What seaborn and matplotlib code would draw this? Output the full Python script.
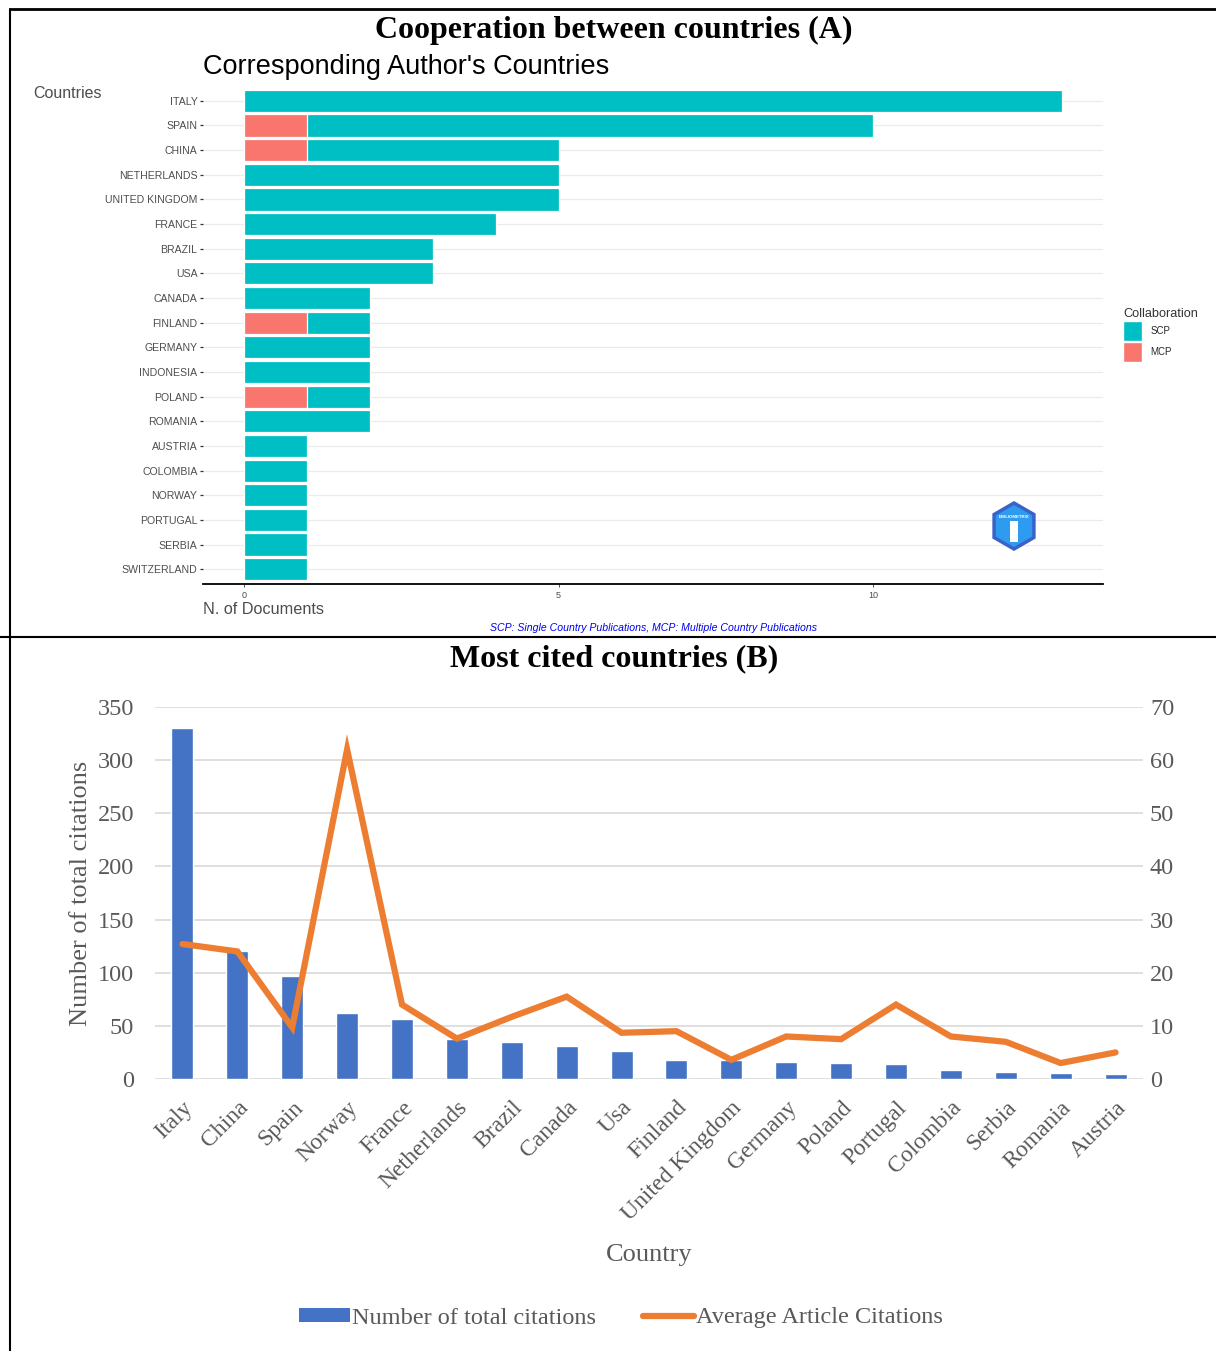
import numpy as np
import pandas as pd
import matplotlib
matplotlib.use("Agg")
import matplotlib.pyplot as plt
import seaborn as sns
from matplotlib.lines import Line2D
from matplotlib.patches import Patch, RegularPolygon

# ---- Panel A: corresponding author's countries ----
countries_a = ["ITALY", "SPAIN", "CHINA", "NETHERLANDS", "UNITED KINGDOM", "FRANCE",
               "BRAZIL", "USA", "CANADA", "FINLAND", "GERMANY", "INDONESIA", "POLAND",
               "ROMANIA", "AUSTRIA", "COLOMBIA", "NORWAY", "PORTUGAL", "SERBIA",
               "SWITZERLAND"]
scp = [13, 9, 4, 5, 5, 4, 3, 3, 2, 1, 2, 2, 1, 2, 1, 1, 1, 1, 1, 1]
mcp = [0, 1, 1, 0, 0, 0, 0, 0, 0, 1, 0, 0, 1, 0, 0, 0, 0, 0, 0, 0]
ticks_a = [0, 5, 10]

# ---- Panel B: most cited countries ----
countries_b = ["Italy", "China", "Spain", "Norway", "France", "Netherlands", "Brazil",
               "Canada", "Usa", "Finland", "United Kingdom", "Germany", "Poland",
               "Portugal", "Colombia", "Serbia", "Romania", "Austria"]
total_citations = [330, 120, 97, 62, 56, 38, 35, 31, 26, 18, 18, 16, 15, 14, 8, 7, 6, 5]
avg_citations = [25.4, 24.0, 9.7, 62.0, 14.0, 7.6, 11.7, 15.5, 8.7, 9.0, 3.6, 8.0, 7.5,
                 14.0, 8.0, 7.0, 3.0, 5.0]
ticks_left = [0, 50, 100, 150, 200, 250, 300, 350]
ticks_right = [0, 10, 20, 30, 40, 50, 60, 70]

TEAL = "#00BFC4"
SALMON = "#F8766D"
BLUE = "#4472C4"
ORANGE = "#ED7D31"
GREY_TXT = "#595959"
SERIF = ["Liberation Serif", "DejaVu Serif"]

sns.set_theme(style="white")
plt.rcParams["font.family"] = ["Liberation Sans", "DejaVu Sans"]

W, H = 1216, 1351
fig = plt.figure(figsize=(W / 100, H / 100), dpi=100)


def fx(px):
    return px / W


def fy(py):
    return 1 - py / H


# ================= Panel A =================
df_a = pd.DataFrame({"Country": countries_a, "SCP": scp, "MCP": mcp})
df_a["Total"] = df_a["SCP"] + df_a["MCP"]

axA = fig.add_axes([fx(203), fy(584), fx(1103) - fx(203), fy(86) - fy(584)])
axA.set_axisbelow(True)
sns.barplot(data=df_a, x="Total", y="Country", order=countries_a, color=TEAL,
            saturation=1, width=0.9, edgecolor="white", linewidth=0.9, ax=axA)
sns.barplot(data=df_a[df_a["MCP"] > 0], x="MCP", y="Country", order=countries_a,
            color=SALMON, saturation=1, width=0.9, edgecolor="white", linewidth=0.9,
            ax=axA)
axA.set_xlim(-0.65, 13.65)
axA.set_ylim(len(countries_a) - 0.4, -0.6)
axA.set_xticks(ticks_a)
axA.set_xticklabels([str(t) for t in ticks_a])
axA.yaxis.grid(True, color="#ebebeb", linewidth=0.9)
axA.xaxis.grid(False)
for s in ["left", "right", "top"]:
    axA.spines[s].set_visible(False)
axA.spines["bottom"].set_color("black")
axA.spines["bottom"].set_linewidth(1.3)
axA.tick_params(axis="y", labelsize=7.6, labelcolor="#4d4d4d", length=2.5, width=0.9,
                color="#333333", pad=1.5, left=True)
axA.tick_params(axis="x", labelsize=6.5, labelcolor="#4d4d4d", length=2, width=0.6,
                color="#333333", pad=3, bottom=True)
axA.set_xlabel("")
axA.set_ylabel("")

fig.text(fx(33), fy(93), "Countries", fontsize=11.5, color="#4d4d4d", ha="left", va="center")
fig.text(fx(203), fy(609), "N. of Documents", fontsize=11.7, color="#4d4d4d",
         ha="left", va="center")
fig.text(fx(653), fy(628), "SCP: Single Country Publications, MCP: Multiple Country Publications",
         fontsize=7.6, color="#0000EE", style="italic", ha="center", va="center")
fig.text(fx(614), fy(30), "Cooperation between countries (A)", family=SERIF,
         fontweight="bold", fontsize=23, ha="center", va="center", color="black")
fig.text(fx(203), fy(67), "Corresponding Author's Countries", fontsize=19.5,
         ha="left", va="center", color="black")

legA = axA.legend(handles=[Patch(facecolor=TEAL, edgecolor="white"),
                           Patch(facecolor=SALMON, edgecolor="white")],
                  labels=["SCP", "MCP"], title="Collaboration", frameon=False,
                  loc="upper left", bbox_to_anchor=(fx(1119), fy(304)),
                  bbox_transform=fig.transFigure, fontsize=7, title_fontsize=9.2,
                  handlelength=2.0, handleheight=2.85, handletextpad=0.8,
                  labelspacing=0.08, alignment="left", borderaxespad=0)
legA.get_title().set_color("#333333")

# bibliometrix badge
lax = fig.add_axes([fx(989), fy(551), fx(50), fy(0) - fy(50)])
lax.set_xlim(0, 1)
lax.set_ylim(0, 1)
lax.set_aspect("equal")
lax.axis("off")
lax.add_patch(RegularPolygon((0.5, 0.5), 6, radius=0.5, facecolor="#3a62c9",
                             edgecolor="none"))
lax.add_patch(RegularPolygon((0.5, 0.5), 6, radius=0.42, facecolor="#2d9cf0",
                             edgecolor="none"))
lax.add_patch(plt.Rectangle((0.42, 0.18), 0.16, 0.42, facecolor="white", edgecolor="none"))
lax.text(0.5, 0.68, "BIBLIOMETRIX", fontsize=3.2, color="white", fontweight="bold",
         ha="center", va="center")

# ================= Panel B =================
df_b = pd.DataFrame({"Country": countries_b, "Total": total_citations,
                     "Average": avg_citations})

axB = fig.add_axes([fx(155), fy(1079), fx(1143) - fx(155), fy(707) - fy(1079)])
axB.set_axisbelow(True)
sns.barplot(data=df_b, x="Country", y="Total", order=countries_b, color=BLUE,
            saturation=1, width=0.4, ax=axB)
axB2 = axB.twinx()
sns.pointplot(data=df_b, x="Country", y="Average", order=countries_b, color=ORANGE,
              markers="", linewidth=4.5, errorbar=None, ax=axB2)
for ln in axB2.lines:
    ln.set_solid_capstyle("round")
    ln.set_solid_joinstyle("miter")

axB.set_xlim(-0.5, len(countries_b) - 0.5)
axB.set_ylim(0, 350)
axB2.set_ylim(0, 70)
axB.set_yticks(ticks_left)
axB2.set_yticks(ticks_right)
axB.yaxis.grid(True, color="#d9d9d9", linewidth=1.2)
axB.xaxis.grid(False)
axB2.grid(False)
for a in (axB, axB2):
    for s in ["left", "right", "top", "bottom"]:
        a.spines[s].set_visible(False)
axB.set_xticks(range(len(countries_b)))
axB.set_xticklabels(countries_b, rotation=45, ha="right", rotation_mode="anchor",
                    family=SERIF, fontsize=17, color=GREY_TXT)
axB.tick_params(axis="x", length=0, pad=13)
axB.tick_params(axis="y", length=0, pad=15, labelsize=17.5, labelcolor=GREY_TXT)
axB2.tick_params(axis="y", length=0, pad=5, labelsize=17.5, labelcolor=GREY_TXT)
for lbl in axB.get_yticklabels() + axB2.get_yticklabels():
    lbl.set_family(SERIF)
axB.set_xlabel("Country", family=SERIF, fontsize=19, color=GREY_TXT, labelpad=14)
axB.set_ylabel("Number of total citations", family=SERIF, fontsize=19, color=GREY_TXT,
               labelpad=4)
axB2.set_ylabel("")

fig.text(fx(614), fy(659), "Most cited countries (B)", family=SERIF,
         fontweight="bold", fontsize=23, ha="center", va="center", color="black")

fig.legend(handles=[Patch(facecolor=BLUE, edgecolor="none"),
                    Line2D([0], [0], color=ORANGE, linewidth=4.5, solid_capstyle="round")],
           labels=["Number of total citations", "Average Article Citations"],
           loc="center", bbox_to_anchor=(fx(621), fy(1318)), ncol=2, frameon=False,
           prop={"family": SERIF, "size": 17.5}, labelcolor=GREY_TXT,
           handlelength=2.1, handleheight=0.5, handletextpad=0.1, columnspacing=1.9)

# ---- frame lines ----
fig.add_artist(Line2D([fx(10), 1], [fy(9), fy(9)], color="black", linewidth=2))
fig.add_artist(Line2D([fx(10), fx(10)], [fy(9), 0], color="black", linewidth=1.5))
fig.add_artist(Line2D([0, 1], [fy(637), fy(637)], color="black", linewidth=1.5))

fig.savefig("out.png", dpi=100, facecolor="white")
